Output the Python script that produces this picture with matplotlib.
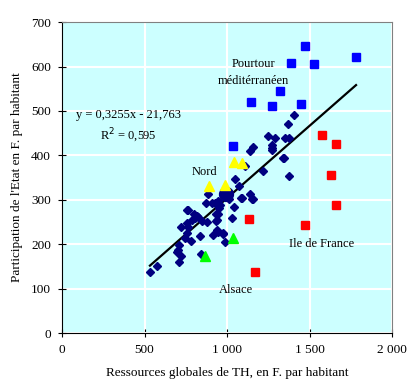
import numpy as np
import matplotlib.pyplot as plt

# Départements "ordinaires" (losanges bleu marine)
x_dep = [1139, 1275, 1341, 1378, 1216, 1109, 1050, 1073, 883, 1141, 1156, 1089,
         1014, 871, 911, 944, 953, 1042, 944, 1032, 759, 802, 820, 806, 786,
         756, 721, 766, 756, 877, 932, 937, 978, 913, 838, 784, 745, 990, 709,
         705, 719, 699, 711, 574, 533, 842, 1404, 1370, 1250, 1293, 1352, 1376,
         1271, 1273, 1159, 927, 958, 933, 762, 826, 848, 941, 944, 973, 1344,
         1153, 1087]
y_dep = [410, 412, 393, 353, 365, 375, 346, 331, 312, 312, 301, 303,
         301, 293, 292, 297, 282, 283, 269, 258, 276, 269, 263, 258, 254,
         248, 238, 238, 226, 250, 252, 232, 224, 220, 218, 208, 213, 204, 198,
         187, 173, 183, 160, 151, 137, 177, 490, 470, 443, 439, 438, 440,
         423, 416, 419, 292, 288, 269, 277, 262, 252, 254, 228, 226, 394,
         301, 304]

# Point moyen (gros rond)
x_moy = [992]
y_moy = [314]

# Pourtour méditerranéen
x_med = [1473, 1782, 1388, 1527, 1321, 1446, 1145, 1273, 1034]
y_med = [647, 621, 608, 606, 545, 515, 520, 511, 421]

# Ile de France
x_idf = [1133, 1170, 1473, 1576, 1630, 1661, 1661]
y_idf = [256, 137, 244, 446, 356, 289, 426]

# Nord
x_nord = [1040, 1091, 893, 990]
y_nord = [385, 383, 331, 334]

# Alsace
x_als = [1036, 867]
y_als = [215, 173]

# Droite de régression
a, b = 0.3255, -21.763

all_x = x_dep + x_med + x_idf + x_nord + x_als
x_line = np.array([min(all_x), max(all_x)])
y_line = a * x_line + b

plt.rcParams['font.family'] = 'Liberation Serif'

fig = plt.figure(figsize=(4.12, 3.92), dpi=100)
ax = fig.add_axes([0.1505, 0.1505, 0.801, 0.793])
ax.set_facecolor('#CCFFFF')

ax.plot(x_line, y_line, color='black', lw=1.6, zorder=2)

ax.plot(x_dep, y_dep, 'D', color='#000080', markersize=3.6, zorder=3)
ax.plot(x_moy, y_moy, 'o', color='#000080', markersize=10, zorder=3)
ax.plot(x_med, y_med, 's', color='#0000FF', markersize=5.8, zorder=3)
ax.plot(x_idf, y_idf, 's', color='#FF0000', markersize=5.8, zorder=3)
ax.plot(x_nord, y_nord, '^', color='#FFFF00', markersize=7.5, zorder=4)
ax.plot(x_als, y_als, '^', color='#00FF00', markersize=7.5, zorder=4)

ax.set_xlim(0, 2000)
ax.set_ylim(0, 700)
ax.set_xticks([0, 500, 1000, 1500, 2000])
ax.set_xticklabels(['0', '500', '1 000', '1 500', '2 000'])
ax.set_yticks(range(0, 701, 100))
ax.grid(True, color='white', lw=1.5)
ax.set_axisbelow(True)

ax.tick_params(labelsize=9.5, direction='inout', length=6, width=0.8, pad=5)
ax.spines['top'].set_color('#808080')
ax.spines['right'].set_color('#808080')

ax.set_xlabel("Ressources globales de TH, en F. par habitant", fontsize=9.5, labelpad=8)
ax.set_ylabel("Participation de l'Etat en F. par habitant", fontsize=9.5, labelpad=6)

# Annotations
ax.text(400, 491, "y = 0,3255x - 21,763", fontsize=9, ha='center', va='center')
ax.text(400, 444, "R$^2$ = 0,595", fontsize=9, ha='center', va='center')
ax.text(1158, 606, "Pourtour", fontsize=9, ha='center', va='center')
ax.text(1158, 567, "méditérranéen", fontsize=9, ha='center', va='center')
ax.text(861, 363, "Nord", fontsize=9, ha='center', va='center')
ax.text(1570, 200, "Ile de France", fontsize=9, ha='center', va='center')
ax.text(1055, 97, "Alsace", fontsize=9, ha='center', va='center')

fig.savefig('out.png', dpi=100)
